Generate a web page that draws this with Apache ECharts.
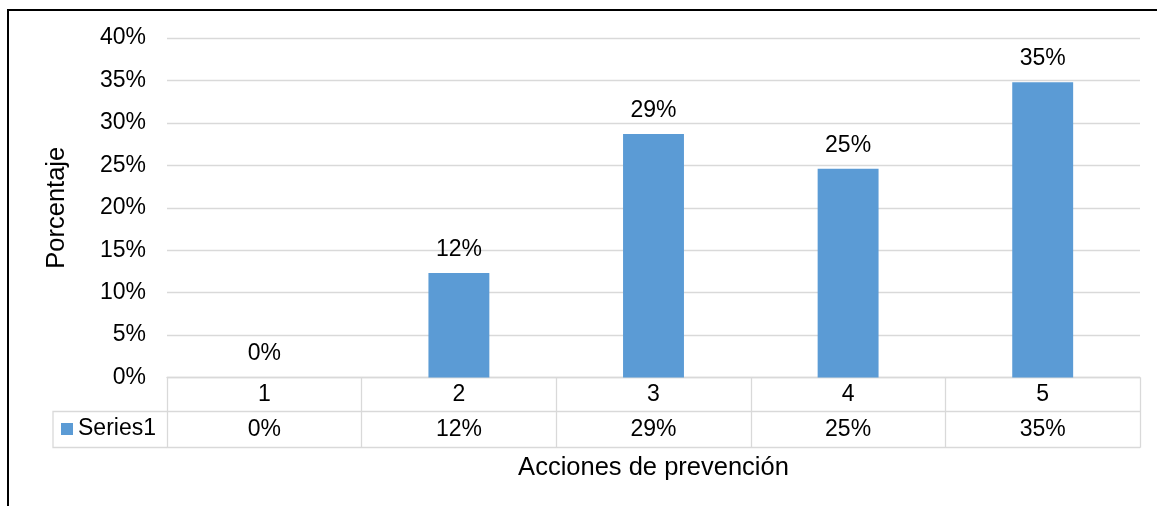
<!DOCTYPE html>
<html>
<head>
<meta charset="utf-8">
<script src="https://cdn.jsdelivr.net/npm/echarts@6/dist/echarts.min.js"></script>
<style>
  html, body { margin: 0; padding: 0; background: #fff; }
  #wrap { position: relative; width: 1157px; height: 506px; overflow: hidden; }
  #chart { position: absolute; left: 0; top: 0; width: 1157px; height: 506px; }
  #frame { position: absolute; left: 7px; top: 9px; width: 1200px; height: 600px;
           border-left: 2px solid #000; border-top: 2px solid #000; pointer-events: none; }
</style>
</head>
<body>
<div id="wrap">
  <div id="chart"></div>
  <div id="frame"></div>
</div>
<script>
// ---- data ----
const categories = ["1", "2", "3", "4", "5"];
const seriesName = "Series1";
const values = [0, 0.123, 0.287, 0.246, 0.348];
const yAxisTitle = "Porcentaje";
const xAxisTitle = "Acciones de prevención";
const yMin = 0, yMax = 0.4, yStep = 0.05;

// ---- layout / style ----
const FONT = "Liberation Sans, Arial, sans-serif";
const TXT = "#000";
const LINE = "#d9d9d9";
const BAR = "#5b9bd5";
const G = { left: 167, right: 17, top: 38, bottom: 128.5 };
const ROW1 = 34, ROW2 = 70, LEG_LEFT = 53;

const pct = v => Math.round(v * 100) + "%";

const chart = echarts.init(document.getElementById("chart"), null, { renderer: "canvas" });
const plotBottom = 506 - G.bottom;

chart.setOption({
  animation: false,
  textStyle: { fontFamily: FONT },
  grid: { left: G.left, right: G.right, top: G.top, bottom: G.bottom, containLabel: false },
  legend: {
    show: true, left: 61, top: plotBottom + ROW1 + 6, padding: 0,
    icon: "rect", itemWidth: 12, itemHeight: 12, itemGap: 5,
    textStyle: { fontSize: 23, color: TXT, fontFamily: FONT },
    data: [seriesName]
  },
  xAxis: [
    {
      type: "category", data: categories, position: "bottom",
      axisLine: { show: true, lineStyle: { color: LINE, width: 1.3 } },
      axisTick: { show: true, length: ROW2, interval: 0, lineStyle: { color: LINE, width: 1.3 } },
      axisLabel: { show: true, interval: 0, fontSize: 23, color: TXT, margin: 6, fontFamily: FONT },
      splitLine: { show: false }
    },
    {
      type: "category", data: categories, position: "bottom", offset: ROW1,
      axisLine: { show: true, lineStyle: { color: LINE, width: 1.3 } },
      axisTick: { show: false },
      axisLabel: { show: true, interval: 0, fontSize: 23, color: TXT, margin: 7, fontFamily: FONT,
                   formatter: (v, i) => pct(values[i]) },
      splitLine: { show: false }
    },
    {
      type: "category", data: categories, position: "bottom", offset: ROW2,
      axisLine: { show: true, lineStyle: { color: LINE, width: 1.3 } },
      axisTick: { show: false },
      axisLabel: { show: false },
      name: xAxisTitle, nameLocation: "middle", nameGap: 7,
      nameTextStyle: { fontSize: 25.5, color: TXT, fontFamily: FONT }
    }
  ],
  yAxis: {
    type: "value", min: yMin, max: yMax, interval: yStep,
    axisLine: { show: false }, axisTick: { show: false },
    axisLabel: { fontSize: 23, color: TXT, margin: 21, fontFamily: FONT, formatter: v => pct(v) },
    splitLine: { show: true, lineStyle: { color: LINE, width: 1.3 } },
    name: yAxisTitle, nameLocation: "middle", nameGap: 97, nameRotate: 90,
    nameTextStyle: { fontSize: 25.5, color: TXT, fontFamily: FONT }
  },
  series: [{
    name: seriesName, type: "bar", xAxisIndex: 0, data: values,
    barWidth: "31.3%", itemStyle: { color: BAR },
    label: { show: true, position: "top", distance: 12, fontSize: 23, color: TXT,
             fontFamily: FONT, formatter: p => pct(p.value) }
  }],
  graphic: [{
    type: "polyline", silent: true,
    shape: { points: [[G.left, plotBottom + ROW1], [LEG_LEFT, plotBottom + ROW1],
                      [LEG_LEFT, plotBottom + ROW2], [G.left, plotBottom + ROW2]] },
    style: { stroke: LINE, lineWidth: 1.3, fill: null }
  }]
});
</script>
</body>
</html>
